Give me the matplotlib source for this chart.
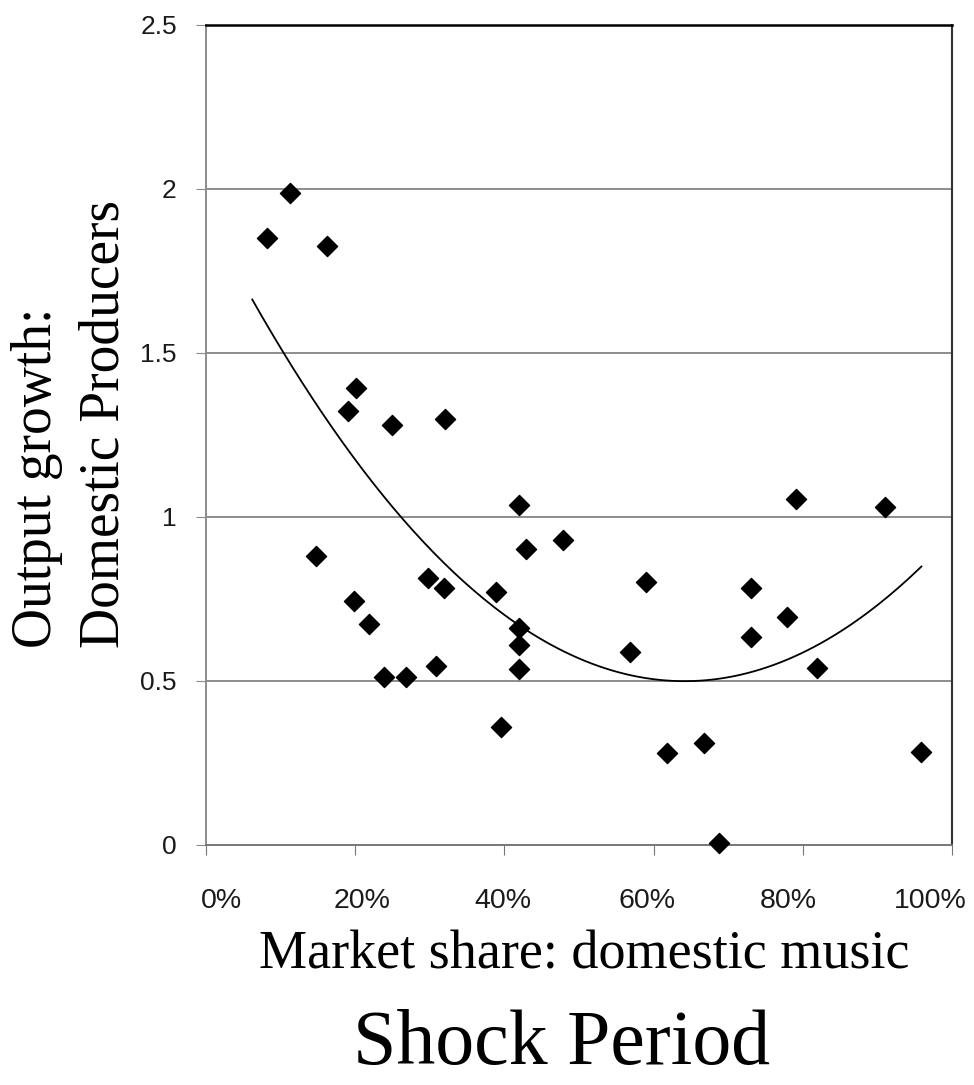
"""
scatter of output growth vs market share, shock period
"""
import matplotlib
matplotlib.use("Agg")
import matplotlib.pyplot as plt
import numpy as np

# market share of domestic music (fraction) and output growth of domestic producers
share = [0.082, 0.112, 0.162, 0.148, 0.201, 0.191, 0.250, 0.320,
         0.198, 0.219, 0.238, 0.268, 0.298, 0.319, 0.308, 0.389,
         0.396, 0.420, 0.429, 0.419, 0.419, 0.419, 0.479, 0.568,
         0.590, 0.618, 0.668, 0.688, 0.730, 0.730, 0.779, 0.791,
         0.819, 0.910, 0.958]
growth = [1.850, 1.987, 1.827, 0.881, 1.394, 1.323, 1.280, 1.299,
          0.745, 0.673, 0.513, 0.513, 0.813, 0.785, 0.546, 0.772,
          0.361, 1.037, 0.902, 0.663, 0.610, 0.538, 0.930, 0.589,
          0.801, 0.279, 0.310, 0.005, 0.785, 0.633, 0.694, 1.055,
          0.541, 1.031, 0.284]

# polynomial (order 2) trendline, range as drawn
trendRange = [0.062, 0.959]

xTicks = [0, 0.2, 0.4, 0.6, 0.8, 1.0]
# the scanned labels sit a little off their tick marks
xLabelPos = [0.021, 0.209, 0.398, 0.591, 0.780, 0.971]
xTickLabels = ["0%", "20%", "40%", "60%", "80%", "100%"]
yTicks = [0, 0.5, 1, 1.5, 2, 2.5]
yTickLabels = ["0", "0.5", "1", "1.5", "2", "2.5"]

fig = plt.figure(figsize=(9.74, 10.85), dpi=100)
ax = fig.add_axes([0.2115, 0.2212, 0.7659, 0.7558])

# horizontal gridlines
for yv in yTicks[1:-1]:
    ax.axhline(yv, color="#8c8c8c", lw=1.4, zorder=1)

# quadratic fit to the scatter
coef = np.polyfit(share, growth, 2)
xs = np.linspace(trendRange[0], trendRange[1], 200)
ax.plot(xs, np.polyval(coef, xs), color="black", lw=1.3, zorder=2)

ax.scatter(share, growth, marker="D", s=105, color="black", zorder=3, clip_on=False)

ax.set_xlim(0, 1)
ax.set_ylim(0, 2.5)

# tick marks on the grid, labels as minor ticks at their own spots
ax.set_xticks(xTicks)
ax.set_xticklabels([])
ax.set_xticks(xLabelPos, minor=True)
ax.set_xticklabels(xTickLabels, minor=True, fontsize=20.5, family="Liberation Sans",
                   color="#1a1a1a")
ax.tick_params(axis="x", which="major", direction="out", length=7, color="#777777")
ax.tick_params(axis="x", which="minor", length=0, pad=31)

ax.set_yticks(yTicks)
ax.set_yticklabels(yTickLabels, fontsize=19, family="Liberation Sans", color="#1a1a1a")
ax.tick_params(axis="y", direction="out", length=7, color="#8c8c8c", pad=14)

ax.spines["top"].set_color("black")
ax.spines["top"].set_linewidth(1.8)
ax.spines["right"].set_color("#333333")
ax.spines["right"].set_linewidth(1.5)
ax.spines["left"].set_color("#8c8c8c")
ax.spines["left"].set_linewidth(1.4)
ax.spines["bottom"].set_color("#777777")
ax.spines["bottom"].set_linewidth(1.4)

# labels
fig.text(0.0725, 0.609, "Output growth:\nDomestic Producers", rotation=90,
         ha="center", va="center", multialignment="left", fontsize=40,
         family="Liberation Serif", linespacing=1.4)
fig.text(0.600, 0.120, "Market share: domestic music", ha="center", va="center",
         fontsize=39, family="Liberation Serif")
fig.text(0.577, 0.037, "Shock Period", ha="center", va="center",
         fontsize=56, family="Liberation Serif")

plt.savefig("out.png", dpi=100)
